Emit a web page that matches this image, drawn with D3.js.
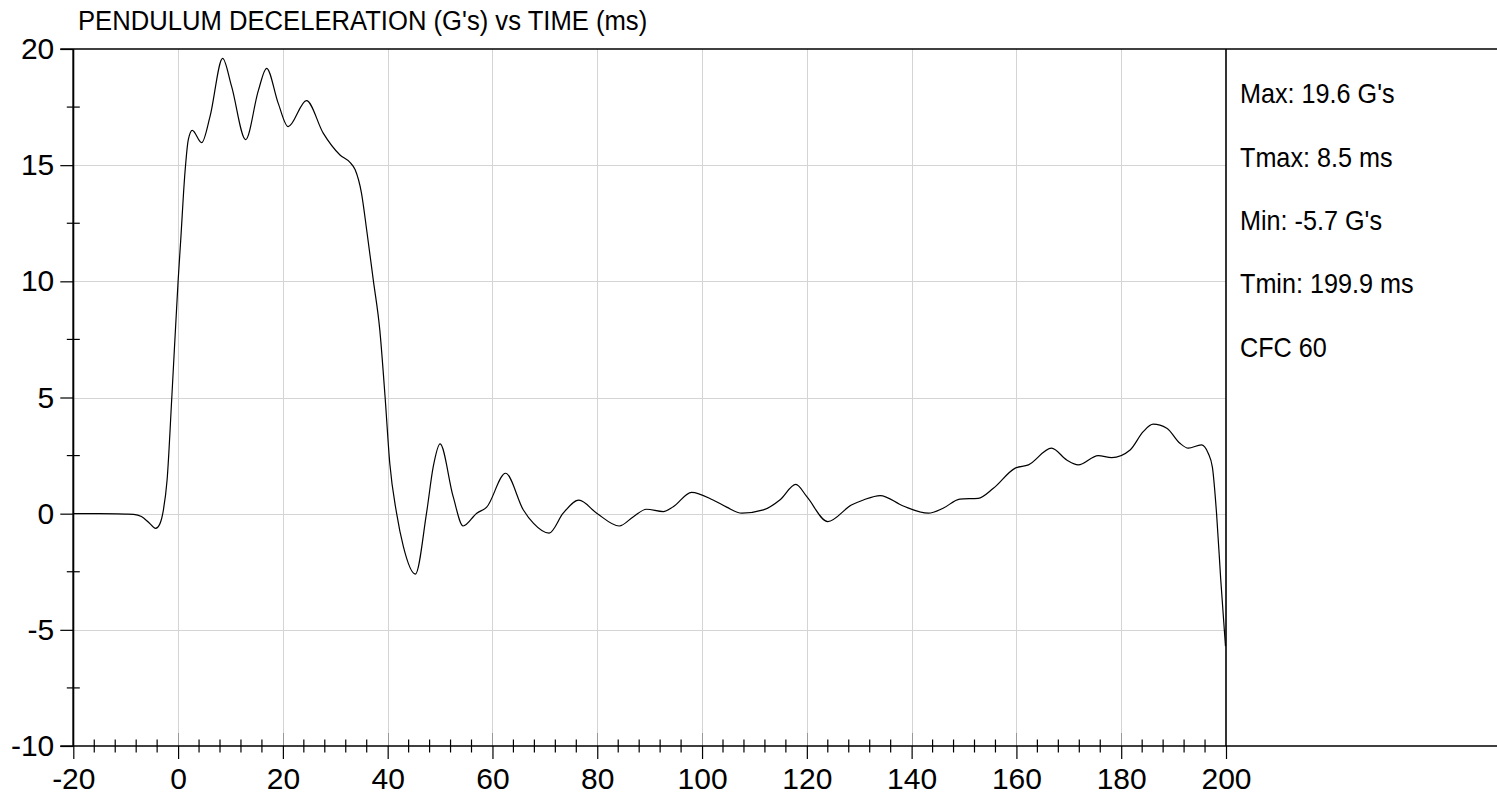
<!DOCTYPE html>
<html>
<head>
<meta charset="utf-8">
<script src="https://cdn.jsdelivr.net/npm/d3@7"></script>
<style>
  html, body { margin: 0; padding: 0; background: #fff; }
  svg { display: block; }
  text { font-family: "Liberation Sans", Arial, sans-serif; fill: #000; }
</style>
</head>
<body>
<svg id="chart" width="1497" height="797"></svg>
<script>
// ---- data ----
const titleText = "PENDULUM DECELERATION (G's) vs TIME (ms)";
const timeMs = [-20, -15, -10, -8.5, -7, -5.5, -4.3, -3.5, -2.8, -2.1, -1.2, 0, 0.5, 1.3, 1.95, 2.7, 4.5, 6.1, 8.5, 10.2, 12.9, 15.3, 16.9, 19.1, 21.0, 24.5, 27.7, 30.9, 32.8, 33.8, 35.0, 36.0, 37.25, 38.5, 39.5, 40.4, 41.7, 43.0, 45.3, 47.4, 48.7, 50.0, 52.5, 54.4, 57.0, 58.9, 62.5, 65.9, 67.8, 70.8, 73.5, 76.5, 79.9, 84.2, 86.9, 89.4, 92.6, 94.5, 98.0, 102.1, 104.7, 107.6, 111.7, 114.9, 117.9, 120.0, 124.0, 128.5, 130.8, 134.0, 138.4, 143.2, 146.0, 149.2, 152.7, 155.6, 159.7, 162.3, 166.7, 169.6, 171.8, 175.6, 178.2, 181.7, 184.2, 186.1, 188.7, 191.2, 192.8, 195.3, 196.6, 197.4, 198.2, 199.0, 199.9];
const accelG = [0, 0, -0.02, -0.03, -0.12, -0.4, -0.63, -0.45, 0.16, 1.45, 5.0, 10.0, 11.77, 14.65, 16.1, 16.5, 15.97, 17.1, 19.6, 18.4, 16.1, 18.2, 19.17, 17.67, 16.66, 17.78, 16.38, 15.44, 15.12, 14.8, 13.8, 12.2, 10.06, 7.9, 5.04, 2.17, 0.02, -1.42, -2.6, 0.0, 2.02, 3.0, 0.73, -0.53, 0.02, 0.28, 1.74, 0.16, -0.41, -0.84, 0.02, 0.58, 0.02, -0.53, -0.13, 0.19, 0.09, 0.3, 0.92, 0.59, 0.28, 0.02, 0.16, 0.6, 1.26, 0.73, -0.34, 0.37, 0.59, 0.78, 0.33, 0.02, 0.23, 0.63, 0.66, 1.09, 1.95, 2.1, 2.82, 2.31, 2.1, 2.5, 2.41, 2.74, 3.53, 3.85, 3.68, 3.03, 2.82, 2.96, 2.6, 2.0, 0.0, -2.85, -5.7];
const xMajorTicks = [-20, 0, 20, 40, 60, 80, 100, 120, 140, 160, 180, 200];
const xMinorTicks = d3.range(-20, 201, 4).filter(v => v % 20 !== 0);
const yMajorTicks = [-10, -5, 0, 5, 10, 15, 20];
const yMinorTicks = [-7.5, -2.5, 2.5, 7.5, 12.5, 17.5];
const statLabels = ["Max: 19.6 G's", "Tmax: 8.5 ms", "Min: -5.7 G's", "Tmin: 199.9 ms", "CFC 60"];

// ---- layout ----
const svg = d3.select("#chart");
const L = 73.3, R = 1226, T = 49, B = 746;
const x = d3.scaleLinear().domain([-20, 200]).range([L, R]);
const y = d3.scaleLinear().domain([-10, 20]).range([B, T]);
const fmt = d => String(d);

// grid
const grid = svg.append("g").attr("stroke", "#d4d4d4").attr("stroke-width", 1);
grid.selectAll("line.v").data(xMajorTicks.filter(v => v > -20 && v < 200)).join("line")
  .attr("x1", d => Math.round(x(d)) + 0.5).attr("x2", d => Math.round(x(d)) + 0.5)
  .attr("y1", T).attr("y2", B);
grid.selectAll("line.h").data(yMajorTicks.filter(v => v > -10 && v < 20)).join("line")
  .attr("x1", L).attr("x2", R)
  .attr("y1", d => Math.round(y(d)) + 0.5).attr("y2", d => Math.round(y(d)) + 0.5);

// major tick inner (gray) parts
const inner = svg.append("g").attr("stroke", "#999").attr("stroke-width", 1);
inner.selectAll("line.xi").data(xMajorTicks.filter(v => v > -20 && v < 200)).join("line")
  .attr("x1", d => Math.round(x(d)) + 0.5).attr("x2", d => Math.round(x(d)) + 0.5)
  .attr("y1", B - 13).attr("y2", B);

// x axis
const xAxis = d3.axisBottom(x).tickValues(xMajorTicks).tickSize(13).tickPadding(9).tickFormat(fmt);
const gx = svg.append("g").attr("transform", `translate(0,${B})`).call(xAxis);
gx.select(".domain").remove();
gx.selectAll(".tick line").attr("stroke", "#000").attr("stroke-width", 1.2);
gx.selectAll(".tick text").style("font-size", "30px").attr("fill", "#000")
  .style("font-family", '"Liberation Sans", Arial, sans-serif');

// y axis
const yAxis = d3.axisLeft(y).tickValues(yMajorTicks).tickSize(13).tickPadding(6).tickFormat(fmt);
const gy = svg.append("g").attr("transform", `translate(${L},0)`).call(yAxis);
gy.select(".domain").remove();
gy.selectAll(".tick line").attr("stroke", "#000").attr("stroke-width", 1.2);
gy.selectAll(".tick text").style("font-size", "30px").attr("fill", "#000")
  .style("font-family", '"Liberation Sans", Arial, sans-serif');

// minor ticks (crossing the axis)
const minor = svg.append("g").attr("stroke", "#000").attr("stroke-width", 1.2);
minor.selectAll("line.xm").data(xMinorTicks).join("line")
  .attr("x1", d => x(d)).attr("x2", d => x(d)).attr("y1", B - 6.5).attr("y2", B + 6.5);
minor.selectAll("line.ym").data(yMinorTicks).join("line")
  .attr("x1", L - 6.5).attr("x2", L + 6.5).attr("y1", d => y(d)).attr("y2", d => y(d));

// frame lines
svg.append("line").attr("x1", L).attr("x2", L).attr("y1", T).attr("y2", B)
  .attr("stroke", "#000").attr("stroke-width", 2);
svg.append("line").attr("x1", L - 13).attr("x2", 1497).attr("y1", T).attr("y2", T)
  .attr("stroke", "#000").attr("stroke-width", 1.4);
svg.append("line").attr("x1", L - 13).attr("x2", 1497).attr("y1", B).attr("y2", B)
  .attr("stroke", "#000").attr("stroke-width", 1.4);
svg.append("line").attr("x1", R).attr("x2", R).attr("y1", T).attr("y2", B)
  .attr("stroke", "#000").attr("stroke-width", 1.6);

// data line
const pts = timeMs.map((t, i) => [t, accelG[i]]);
svg.append("path").datum(pts)
  .attr("fill", "none").attr("stroke", "#000").attr("stroke-width", 1.2)
  .attr("d", d3.line().x(d => x(d[0])).y(d => y(d[1])).curve(d3.curveMonotoneX));

// title
svg.append("g").attr("transform", "translate(78,30) scale(0.916,1)")
  .append("text").text(titleText).style("font-size", "28px");

// stats
svg.selectAll("g.stat").data(statLabels).join("g")
  .attr("transform", (d, i) => `translate(1240,${103.3 + i * 63.3}) scale(0.9,1)`)
  .append("text").text(d => d).style("font-size", "28px");
</script>
</body>
</html>
